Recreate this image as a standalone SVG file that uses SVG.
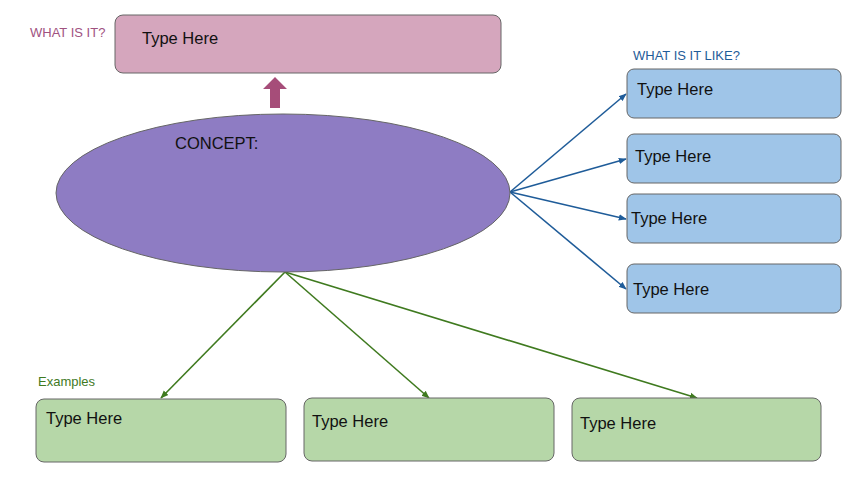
<svg xmlns="http://www.w3.org/2000/svg" width="851" height="478" viewBox="0 0 851 478">
<style>
text{font-family:"Liberation Sans",Arial,sans-serif}
.t{font-size:16.5px;fill:#111}
.lbl{font-size:13px}
.box{stroke:#666;stroke-width:1}
.pink{fill:#D5A6BD}
.blue{fill:#9FC5E8}
.green{fill:#B6D7A8}
.bl{stroke:#1F5C99;stroke-width:1.6;fill:none;marker-end:url(#ab)}
.gl{stroke:#3F7A1F;stroke-width:1.6;fill:none;marker-end:url(#ag)}
</style>
<defs>
<marker id="ab" viewBox="0 0 10 10" refX="9" refY="5" markerWidth="5" markerHeight="5" orient="auto" markerUnits="strokeWidth"><path d="M0,1 L10,5 L0,9 z" fill="#1F5C99"/></marker>
<marker id="ag" viewBox="0 0 10 10" refX="9" refY="5" markerWidth="5" markerHeight="5" orient="auto" markerUnits="strokeWidth"><path d="M0,1 L10,5 L0,9 z" fill="#3F7A1F"/></marker>
</defs>
<rect width="851" height="478" fill="#fff"/>
<text x="30" y="37" class="lbl" fill="#A0527F">WHAT IS IT?</text>
<text x="633" y="60" class="lbl" fill="#1F5C99">WHAT IS IT LIKE?</text>
<text x="38" y="386" class="lbl" font-size="12.5" fill="#3F7A1F">Examples</text>
<g id="connectors">
<path d="M270,108 L270,89 L263,89 L275,77 L287,89 L280,89 L280,108 Z" fill="#A64D79"/>
<line x1="510" y1="192" x2="626" y2="94" class="bl"/>
<line x1="510" y1="192" x2="626" y2="159" class="bl"/>
<line x1="510" y1="192" x2="626" y2="219" class="bl"/>
<line x1="510" y1="192" x2="626" y2="289" class="bl"/>
<line x1="285" y1="272" x2="161" y2="398" class="gl"/>
<line x1="285" y1="272" x2="429" y2="398" class="gl"/>
<line x1="285" y1="272" x2="697" y2="398" class="gl"/>
</g>
<g id="what"><rect x="115" y="15" width="386" height="58" rx="8" class="box pink"/><text x="142" y="44" class="t">Type Here</text></g>
<g id="concept"><ellipse cx="283" cy="193" rx="227" ry="79" fill="#8E7CC3" stroke="#666"/><text x="175" y="149" class="t">CONCEPT:</text></g>
<g id="like1"><rect x="627" y="69" width="214" height="49" rx="7" class="box blue"/><text x="637" y="95" class="t">Type Here</text></g>
<g id="like2"><rect x="627" y="134" width="214" height="49" rx="7" class="box blue"/><text x="635" y="162" class="t">Type Here</text></g>
<g id="like3"><rect x="627" y="194" width="214" height="49" rx="7" class="box blue"/><text x="631" y="224" class="t">Type Here</text></g>
<g id="like4"><rect x="627" y="264" width="214" height="49" rx="7" class="box blue"/><text x="633" y="295" class="t">Type Here</text></g>
<g id="ex1"><rect x="36" y="399" width="250" height="63" rx="8" class="box green"/><text x="46" y="424" class="t">Type Here</text></g>
<g id="ex2"><rect x="304" y="398" width="250" height="63" rx="8" class="box green"/><text x="312" y="427" class="t">Type Here</text></g>
<g id="ex3"><rect x="572" y="398" width="249" height="63" rx="8" class="box green"/><text x="580" y="429" class="t">Type Here</text></g>
</svg>
